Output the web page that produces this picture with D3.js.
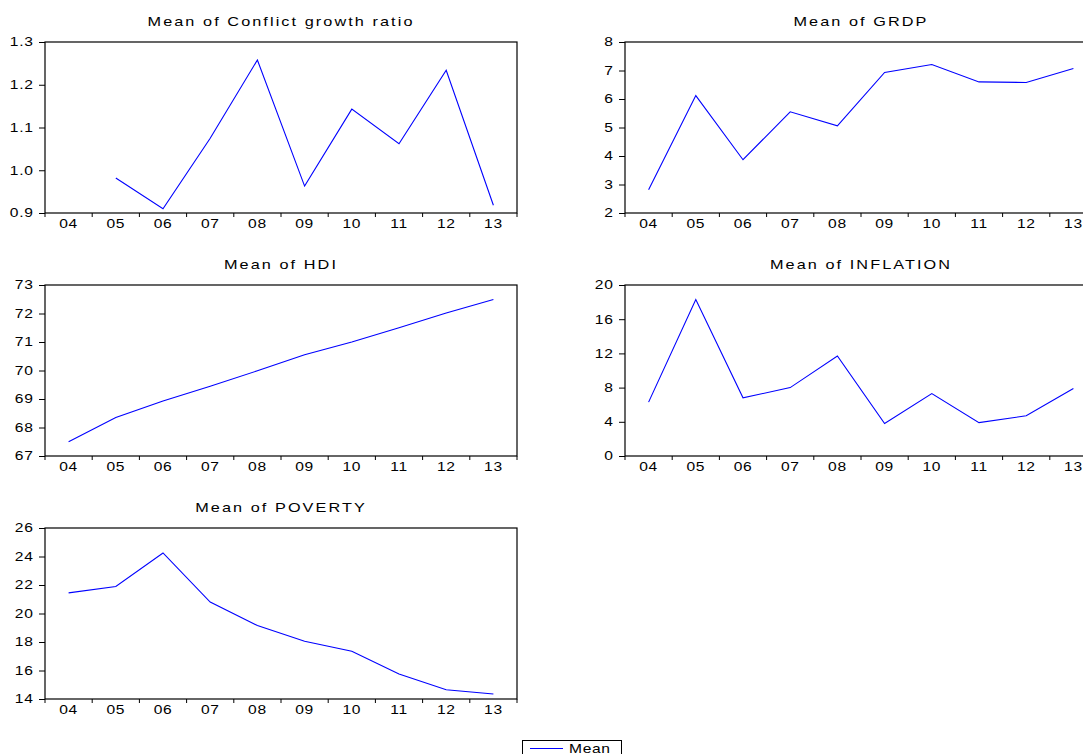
<!DOCTYPE html>
<html>
<head>
<meta charset="utf-8">
<script src="https://cdn.jsdelivr.net/npm/d3@7"></script>
<style>
  body { margin: 0; background: #fff; }
  text { font-family: "Liberation Sans", Arial, sans-serif; fill: #000; }
</style>
</head>
<body>
<div id="chart"></div>
<script>
var years = ["04", "05", "06", "07", "08", "09", "10", "11", "12", "13"];

var conflict  = [null, 0.982, 0.910, 1.075, 1.258, 0.963, 1.143, 1.062, 1.234, 0.918];
var grdp      = [2.82, 6.12, 3.87, 5.55, 5.06, 6.93, 7.21, 6.60, 6.58, 7.07];
var hdi       = [67.50, 68.35, 68.93, 69.45, 69.99, 70.55, 71.00, 71.50, 72.02, 72.49];
var inflation = [6.3, 18.3, 6.8, 8.0, 11.7, 3.8, 7.3, 3.9, 4.7, 7.9];
var poverty   = [21.45, 21.90, 24.25, 20.80, 19.15, 18.05, 17.35, 15.75, 14.65, 14.35];

var conflictTicks  = [0.9, 1.0, 1.1, 1.2, 1.3];
var grdpTicks      = [2, 3, 4, 5, 6, 7, 8];
var hdiTicks       = [67, 68, 69, 70, 71, 72, 73];
var inflationTicks = [0, 4, 8, 12, 16, 20];
var povertyTicks   = [14, 16, 18, 20, 22, 24, 26];

var panels = [
  {title: "Mean of Conflict growth ratio", values: conflict,  ticks: conflictTicks,  fmt: ".1f", left: 45,  top: 42},
  {title: "Mean of GRDP",                  values: grdp,      ticks: grdpTicks,      fmt: "d",   left: 625, top: 42},
  {title: "Mean of HDI",                   values: hdi,       ticks: hdiTicks,       fmt: "d",   left: 45,  top: 285},
  {title: "Mean of INFLATION",             values: inflation, ticks: inflationTicks, fmt: "d",   left: 625, top: 285},
  {title: "Mean of POVERTY",               values: poverty,   ticks: povertyTicks,   fmt: "d",   left: 45,  top: 528}
];

var W = 1083, H = 754;
var pw = 472, ph = 171;
var sx = 1.3;   // the eviews text is drawn wide

var svg = d3.select("#chart").append("svg")
    .attr("width", W)
    .attr("height", H);

var x = d3.scaleBand().domain(years).range([0, pw]);

panels.forEach(function (p) {
  var y = d3.scaleLinear()
      .domain([p.ticks[0], p.ticks[p.ticks.length - 1]])
      .range([ph, 0]);

  var g = svg.append("g").attr("transform", "translate(" + p.left + "," + p.top + ")");

  g.append("text")
      .attr("transform", "translate(" + (pw / 2) + ",-16.5) scale(" + sx + ",1)")
      .attr("text-anchor", "middle")
      .style("font-size", "12.5px")
      .style("letter-spacing", "1.6px")
      .text(p.title);

  // y axis
  var yAxis = d3.axisLeft(y)
      .tickValues(p.ticks)
      .tickSize(6)
      .tickFormat(d3.format(p.fmt));
  var ya = g.append("g").call(yAxis);
  ya.select(".domain").remove();
  ya.selectAll("line").attr("stroke", "#000");
  ya.selectAll("text")
      .attr("x", 0)
      .attr("transform", "translate(-11.5,0) scale(" + sx + ",1)")
      .attr("fill", "#000")
      .style("font-size", "12px")
      .style("letter-spacing", "0.5px")
      .style("font-family", "'Liberation Sans', Arial, sans-serif");

  // x axis: labels at band centres, ticks at band edges
  var xAxis = d3.axisBottom(x).tickSize(0).tickPadding(6);
  var xa = g.append("g").attr("transform", "translate(0," + ph + ")").call(xAxis);
  xa.select(".domain").remove();
  xa.selectAll("text")
      .attr("transform", "scale(" + sx + ",1)")
      .attr("fill", "#000")
      .style("font-size", "12px")
      .style("letter-spacing", "0.5px")
      .style("font-family", "'Liberation Sans', Arial, sans-serif");

  var edges = years.map(function (d) { return x(d); }).concat([x(years[years.length - 1]) + x.bandwidth()]);
  g.selectAll(".xedge")
      .data(edges)
      .enter()
      .append("line")
      .attr("x1", function (d) { return d; })
      .attr("x2", function (d) { return d; })
      .attr("y1", ph)
      .attr("y2", ph + 4)
      .attr("stroke", "#000");

  // frame
  g.append("rect")
      .attr("x", 0)
      .attr("y", 0)
      .attr("width", pw)
      .attr("height", ph)
      .attr("fill", "none")
      .attr("stroke", "#000")
      .attr("stroke-width", 1.2);

  var line = d3.line()
      .defined(function (d) { return d != null; })
      .x(function (d, i) { return x(years[i]) + x.bandwidth() / 2; })
      .y(function (d) { return y(d); });

  g.append("path")
      .datum(p.values)
      .attr("d", line)
      .attr("fill", "none")
      .attr("stroke", "#0000ff")
      .attr("stroke-width", 1.1);
});

// legend (cut by the bottom edge, as in the original)
var lg = svg.append("g").attr("transform", "translate(522,740)");
lg.append("rect")
    .attr("x", 0.5)
    .attr("y", 0.5)
    .attr("width", 99)
    .attr("height", 20)
    .attr("fill", "#fff")
    .attr("stroke", "#000");
lg.append("line")
    .attr("x1", 8)
    .attr("x2", 41)
    .attr("y1", 8.5)
    .attr("y2", 8.5)
    .attr("stroke", "#0000ff");
lg.append("text")
    .attr("transform", "translate(47,12.5) scale(" + sx + ",1)")
    .style("font-size", "12px")
    .style("letter-spacing", "0.5px")
    .text("Mean");
</script>
</body>
</html>
